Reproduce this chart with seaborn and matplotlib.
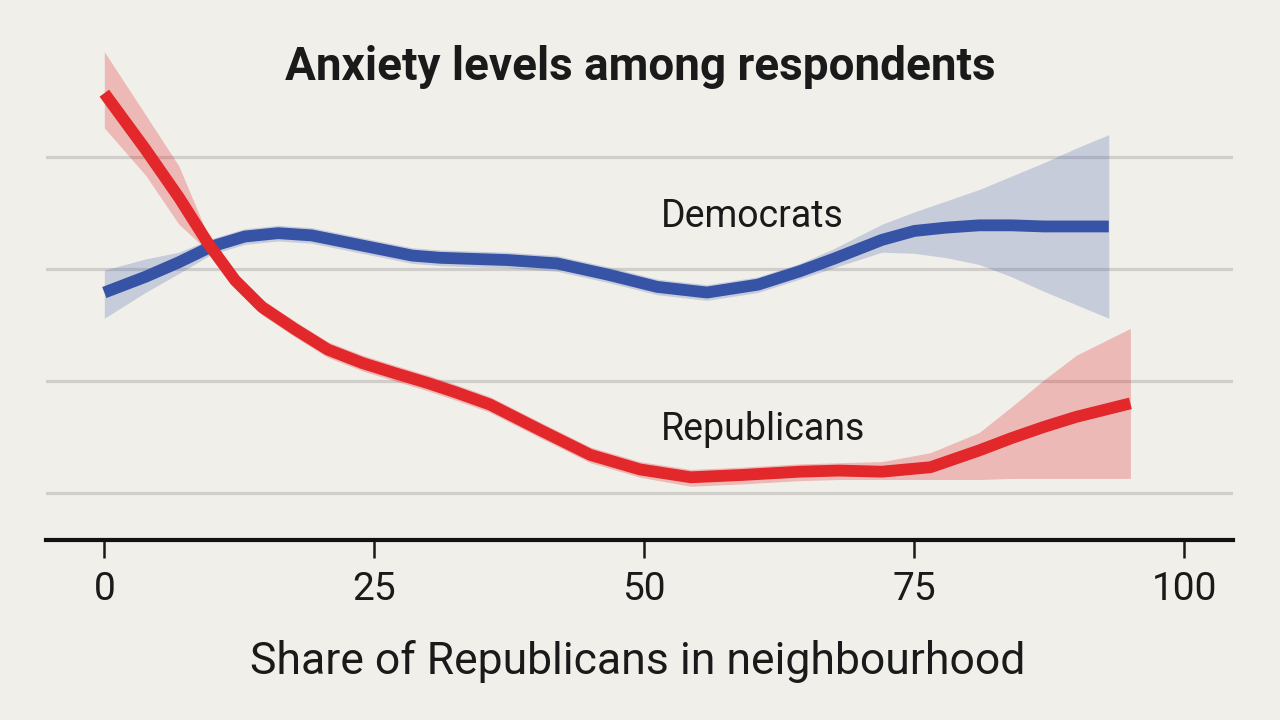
import pandas as pd
import numpy as np
import matplotlib
matplotlib.use('Agg')
import matplotlib.pyplot as plt
import seaborn as sns

# (y axis has no labels, gridlines sit at 1..4)
dem_x = [0, 3.8, 6.9, 9.9, 13, 16.1, 19.2, 22.3, 25.4, 28.5, 31.1, 37.3, 41.9, 46.6,
         51.2, 55.8, 60.5, 64.4, 67.5, 72, 75, 78, 81, 84, 87, 90, 93]
dem_mean = [2.79, 2.93, 3.06, 3.20, 3.29, 3.32, 3.30, 3.24, 3.18, 3.12, 3.10, 3.08, 3.05,
            2.95, 2.84, 2.79, 2.86, 2.98, 3.09, 3.26, 3.34, 3.37, 3.39, 3.39, 3.38, 3.38,
            3.38]
dem_upper = [2.99, 3.09, 3.15, 3.27, 3.36, 3.39, 3.37, 3.31, 3.25, 3.19, 3.17, 3.15, 3.12,
             3.02, 2.91, 2.86, 2.93, 3.05, 3.18, 3.40, 3.51, 3.61, 3.71, 3.83, 3.95, 4.08,
             4.20]
dem_lower = [2.56, 2.79, 2.96, 3.13, 3.22, 3.25, 3.23, 3.17, 3.11, 3.05, 3.03, 3.01, 2.98,
             2.88, 2.77, 2.72, 2.79, 2.91, 3.01, 3.15, 3.14, 3.10, 3.04, 2.93, 2.80, 2.68,
             2.56]

rep_x = [0, 3.8, 6.9, 9.6, 12.1, 14.6, 17.7, 20.7, 23.9, 26.9, 30, 32.5, 35.7, 40.4, 45,
         49.6, 54.3, 58.9, 64.4, 68, 72, 76.5, 81, 84, 87, 90, 95]
rep_mean = [4.57, 4.07, 3.64, 3.23, 2.90, 2.66, 2.46, 2.28, 2.16, 2.07, 1.98, 1.90, 1.79,
            1.56, 1.34, 1.21, 1.14, 1.16, 1.19, 1.20, 1.19, 1.23, 1.38, 1.49, 1.59, 1.68,
            1.80]
rep_upper = [4.94, 4.38, 3.92, 3.30, 2.97, 2.73, 2.53, 2.35, 2.23, 2.14, 2.05, 1.97, 1.86,
             1.63, 1.41, 1.28, 1.21, 1.23, 1.26, 1.27, 1.28, 1.36, 1.54, 1.77, 2.01, 2.23,
             2.47]
rep_lower = [4.26, 3.84, 3.40, 3.16, 2.83, 2.59, 2.39, 2.21, 2.09, 2.00, 1.91, 1.83, 1.72,
             1.49, 1.27, 1.14, 1.06, 1.08, 1.11, 1.12, 1.12, 1.12, 1.12, 1.13, 1.13, 1.13,
             1.13]

parties = ['Democrats', 'Republicans']
colours = {'Democrats': '#3653a5', 'Republicans': '#e2282a'}
band_alpha = {'Democrats': 0.22, 'Republicans': 0.27}
x_ticks = [0, 25, 50, 75, 100]
grid_levels = [1, 2, 3, 4]

bg = '#f0efea'
sns.set_theme(style='white', rc={'figure.facecolor': bg, 'axes.facecolor': bg})
plt.rcParams['font.family'] = ['Roboto', 'DejaVu Sans']

df = pd.concat([
    pd.DataFrame({'share': dem_x, 'anxiety': dem_mean, 'lo': dem_lower, 'hi': dem_upper,
                  'party': 'Democrats'}),
    pd.DataFrame({'share': rep_x, 'anxiety': rep_mean, 'lo': rep_lower, 'hi': rep_upper,
                  'party': 'Republicans'}),
], ignore_index=True)

fig = plt.figure(figsize=(12.8, 7.2), dpi=100)
ax = fig.add_axes([46 / 1280, 180 / 720, (1233 - 46) / 1280, 500 / 720])

for y in grid_levels:
    ax.axhline(y, color='#cfcecb', lw=2.3, zorder=0)

for p in parties:
    d = df[df.party == p]
    ax.fill_between(d.share, d.lo, d.hi, color=colours[p], alpha=band_alpha[p],
                    lw=0, zorder=1)

sns.lineplot(data=df, x='share', y='anxiety', hue='party', hue_order=parties,
             palette=colours, estimator=None, sort=False, linewidth=8.5,
             legend=False, ax=ax, zorder=3)
for line in ax.get_lines()[len(grid_levels):]:
    line.set_solid_capstyle('butt')
    line.set_solid_joinstyle('round')

ax.set_xlim(-5.4, 104.5)
ax.set_ylim(0.58, 5.045)
ax.set_yticks([])
ax.set_xticks(x_ticks)
ax.set_xticklabels([str(t) for t in x_ticks])
ax.tick_params(axis='x', length=13, width=1.8, color='#1a1a1a', pad=9,
               labelsize=28, labelcolor='#1a1a1a', bottom=True)
for s in ['top', 'left', 'right']:
    ax.spines[s].set_visible(False)
ax.spines['bottom'].set_color('#111111')
ax.spines['bottom'].set_linewidth(3)
ax.set_xlabel('')
ax.set_ylabel('')

ax.text(51.5, 3.375, 'Democrats', fontsize=27, color='#1a1a1a', va='baseline', ha='left')
ax.text(51.5, 1.47, 'Republicans', fontsize=27, color='#1a1a1a', va='baseline', ha='left')

fig.text(0.5, 1 - 80 / 720, 'Anxiety levels among respondents', fontsize=33,
         fontweight='bold', color='#1a1a1a', ha='center', va='baseline')
fig.text(638 / 1280, 1 - 674 / 720, 'Share of Republicans in neighbourhood',
         fontsize=32, color='#1a1a1a', ha='center', va='baseline')

fig.savefig('out.png', dpi=100, facecolor=bg)
